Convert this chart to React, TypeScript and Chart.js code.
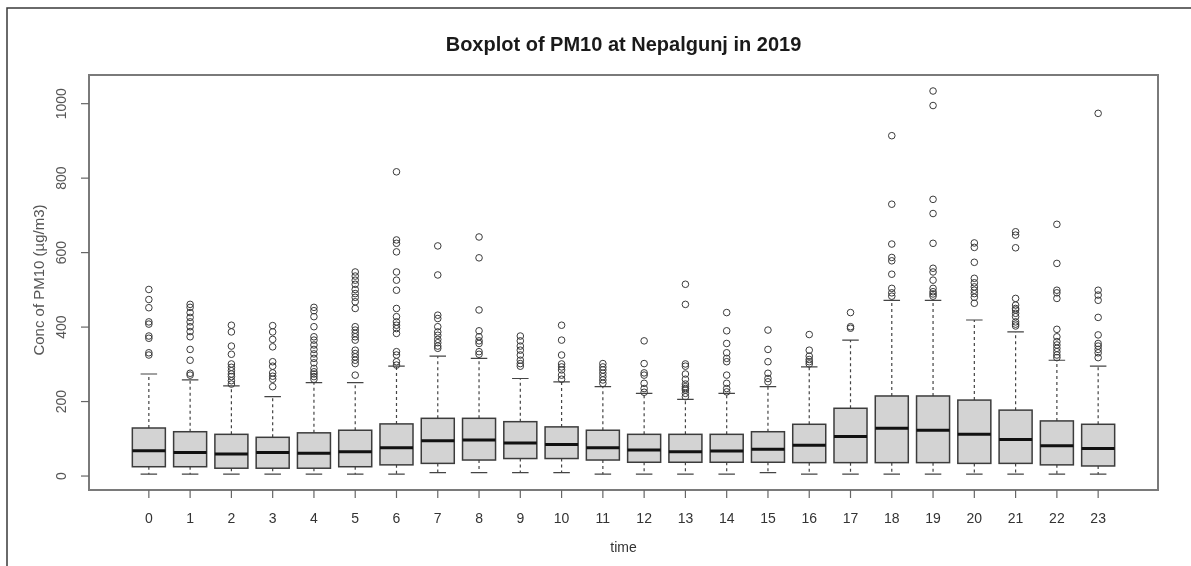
import React, { useEffect, useRef } from 'react';
import { Chart, registerables } from 'chart.js';

Chart.register(...registerables);

const TITLE = 'Boxplot of PM10 at Nepalgunj in 2019';
const X_TITLE = 'time';
const Y_TITLE = 'Conc of PM10 (µg/m3)';

const HOURS = ['0', '1', '2', '3', '4', '5', '6', '7', '8', '9', '10', '11', '12', '13', '14', '15', '16', '17', '18', '19', '20', '21', '22', '23'];
const Y_TICKS = [0, 200, 400, 600, 800, 1000];

const WHISKER_LOW = [5, 5, 5, 5, 5, 5, 5, 9, 9, 9, 9, 5, 5, 5, 5, 9, 5, 5, 5, 5, 5, 5, 5, 5];
const Q1 = [25, 25, 21, 21, 21, 25, 30, 34, 43, 47, 47, 43, 37, 37, 37, 37, 36, 36, 36, 36, 34, 34, 30, 27];
const MEDIAN = [68, 63, 59, 63, 61, 65, 76, 95, 97, 89, 85, 76, 70, 65, 67, 72, 83, 106, 128, 123, 112, 98, 81, 74];
const Q3 = [129, 119, 112, 104, 116, 123, 140, 155, 155, 146, 132, 123, 112, 112, 112, 119, 139, 182, 215, 215, 204, 177, 148, 139];
const WHISKER_HIGH = [274, 258, 242, 213, 251, 251, 295, 322, 316, 262, 253, 240, 222, 206, 222, 240, 293, 365, 472, 472, 419, 387, 311, 295];

const OUTLIERS: number[][] = [
  [501, 474, 452, 414, 408, 376, 370, 331, 325],
  [461, 453, 439, 426, 414, 401, 388, 374, 340, 311, 276, 271],
  [405, 387, 349, 327, 301, 292, 283, 274, 267, 256, 247],
  [404, 387, 367, 347, 307, 295, 277, 268, 260, 240],
  [453, 444, 428, 401, 374, 365, 352, 340, 328, 316, 304, 289, 280, 274, 267, 260],
  [548, 537, 526, 515, 501, 490, 480, 468, 450, 401, 392, 383, 374, 365, 338, 329, 320, 311, 302, 271],
  [817, 634, 625, 602, 548, 526, 499, 450, 428, 414, 405, 396, 383, 334, 325, 307, 298],
  [618, 540, 432, 423, 401, 387, 378, 367, 358, 349, 343],
  [642, 586, 446, 390, 374, 363, 356, 334, 327],
  [376, 363, 349, 338, 325, 311, 302, 295],
  [405, 365, 325, 301, 293, 285, 271, 260],
  [302, 293, 285, 276, 267, 258, 249],
  [363, 302, 277, 271, 249, 235, 225],
  [515, 461, 301, 295, 274, 260, 247, 240, 235, 231, 222, 213],
  [439, 390, 356, 331, 316, 307, 271, 249, 235, 226],
  [392, 340, 307, 276, 262, 253],
  [380, 338, 322, 313, 307, 301],
  [439, 401, 397],
  [914, 730, 623, 587, 578, 542, 504, 492, 483],
  [1034, 995, 743, 705, 625, 558, 548, 526, 504, 495, 489, 483],
  [626, 614, 574, 531, 519, 508, 499, 490, 480, 464],
  [656, 647, 613, 477, 459, 450, 446, 437, 428, 414, 408, 403],
  [676, 571, 499, 492, 477, 394, 374, 361, 352, 343, 334, 325, 318],
  [974, 499, 486, 472, 426, 379, 356, 349, 340, 331, 318],
];

const FONT = '"Liberation Sans", Arial, Helvetica, sans-serif';

const boxPlugin = {
  id: 'rbox',
  beforeDatasetsDraw(chart: any) {
    const { ctx, scales } = chart;
    const x = scales.x;
    const y = scales.y;
    ctx.save();
    // frame around whole figure (top + left)
    ctx.strokeStyle = '#3a3a3a';
    ctx.lineWidth = 1.5;
    ctx.beginPath();
    ctx.moveTo(7, 566);
    ctx.lineTo(7, 8);
    ctx.lineTo(1191, 8);
    ctx.stroke();

    const halfBox = x.getPixelForValue(0.4) - x.getPixelForValue(0);
    const halfCap = x.getPixelForValue(0.2) - x.getPixelForValue(0);
    for (let i = 0; i < HOURS.length; i++) {
      const cx = x.getPixelForValue(i);
      const yLo = y.getPixelForValue(WHISKER_LOW[i]);
      const yQ1 = y.getPixelForValue(Q1[i]);
      const yMed = y.getPixelForValue(MEDIAN[i]);
      const yQ3 = y.getPixelForValue(Q3[i]);
      const yHi = y.getPixelForValue(WHISKER_HIGH[i]);
      // whiskers
      ctx.strokeStyle = '#444';
      ctx.lineWidth = 1.2;
      ctx.setLineDash([3, 3]);
      ctx.beginPath();
      ctx.moveTo(cx, yQ3);
      ctx.lineTo(cx, yHi);
      ctx.moveTo(cx, yQ1);
      ctx.lineTo(cx, yLo);
      ctx.stroke();
      ctx.setLineDash([]);
      ctx.beginPath();
      ctx.moveTo(cx - halfCap, yHi);
      ctx.lineTo(cx + halfCap, yHi);
      ctx.moveTo(cx - halfCap, yLo);
      ctx.lineTo(cx + halfCap, yLo);
      ctx.stroke();
      // box
      ctx.fillStyle = '#d3d3d3';
      ctx.fillRect(cx - halfBox, yQ3, halfBox * 2, yQ1 - yQ3);
      ctx.strokeStyle = '#3c3c3c';
      ctx.lineWidth = 1.5;
      ctx.strokeRect(cx - halfBox, yQ3, halfBox * 2, yQ1 - yQ3);
      // median
      ctx.strokeStyle = '#111';
      ctx.lineWidth = 3;
      ctx.beginPath();
      ctx.moveTo(cx - halfBox, yMed);
      ctx.lineTo(cx + halfBox, yMed);
      ctx.stroke();
    }
    ctx.restore();
  },
  afterDraw(chart: any) {
    const { ctx, chartArea, scales } = chart;
    const x = scales.x;
    const y = scales.y;
    ctx.save();
    // plot frame
    ctx.strokeStyle = '#7a7a7a';
    ctx.lineWidth = 2;
    ctx.strokeRect(chartArea.left, chartArea.top, chartArea.right - chartArea.left, chartArea.bottom - chartArea.top);
    // x ticks and labels
    ctx.strokeStyle = '#666';
    ctx.lineWidth = 1.2;
    ctx.fillStyle = '#333';
    ctx.font = `14px ${FONT}`;
    ctx.textAlign = 'center';
    ctx.textBaseline = 'middle';
    HOURS.forEach((h, i) => {
      const px = x.getPixelForValue(i);
      ctx.beginPath();
      ctx.moveTo(px, chartArea.bottom);
      ctx.lineTo(px, chartArea.bottom + 8);
      ctx.stroke();
      ctx.fillText(h, px, 519);
    });
    // y ticks and labels (rotated)
    Y_TICKS.forEach((t) => {
      const py = y.getPixelForValue(t);
      ctx.beginPath();
      ctx.moveTo(chartArea.left, py);
      ctx.lineTo(chartArea.left - 8, py);
      ctx.stroke();
      ctx.save();
      ctx.translate(62, py);
      ctx.rotate(-Math.PI / 2);
      ctx.fillStyle = '#555';
      ctx.fillText(String(t), 0, 0);
      ctx.restore();
    });
    // axis titles
    ctx.fillStyle = '#333';
    ctx.fillText(X_TITLE, (chartArea.left + chartArea.right) / 2, 548);
    ctx.save();
    ctx.translate(40, 280);
    ctx.rotate(-Math.PI / 2);
    ctx.fillStyle = '#555';
    ctx.font = `15px ${FONT}`;
    ctx.fillText(Y_TITLE, 0, 0);
    ctx.restore();
    // main title
    ctx.fillStyle = '#1a1a1a';
    ctx.font = `bold 20px ${FONT}`;
    ctx.fillText(TITLE, (chartArea.left + chartArea.right) / 2, 45);
    ctx.restore();
  },
};

export default function App() {
  const canvasRef = useRef<HTMLCanvasElement | null>(null);

  useEffect(() => {
    document.body.style.margin = '0';
    const canvas = canvasRef.current;
    if (!canvas) return;
    const points: { x: number; y: number }[] = [];
    OUTLIERS.forEach((arr, i) => arr.forEach((v) => points.push({ x: i, y: v })));
    const chart = new Chart(canvas, {
      type: 'scatter',
      data: {
        datasets: [
          {
            label: 'outliers',
            data: points,
            pointStyle: 'circle',
            pointRadius: 3.3,
            pointBorderWidth: 1,
            backgroundColor: 'rgba(0,0,0,0)',
            borderColor: '#3a3a3a',
            showLine: false,
          },
        ],
      },
      options: {
        animation: false,
        responsive: false,
        maintainAspectRatio: false,
        devicePixelRatio: 1,
        layout: { padding: { left: 89, top: 75, right: 33, bottom: 76 } },
        plugins: {
          legend: { display: false },
          title: { display: false },
          tooltip: { enabled: false },
        },
        scales: {
          x: { type: 'linear', min: -1.45, max: 24.45, display: false },
          y: { type: 'linear', min: -37.5, max: 1077, display: false },
        },
      },
      plugins: [boxPlugin],
    });
    return () => chart.destroy();
  }, []);

  return (
    <div style={{ width: 1191, height: 566, background: '#fff' }}>
      <canvas ref={canvasRef} width={1191} height={566} style={{ display: 'block' }} />
    </div>
  );
}
